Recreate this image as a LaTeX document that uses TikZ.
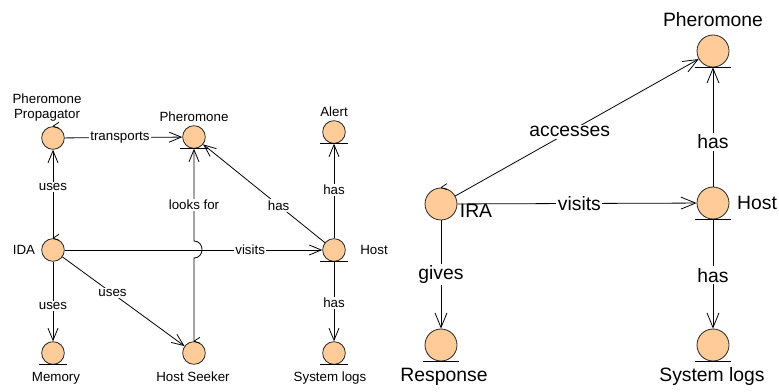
\documentclass[tikz,border=0pt]{standalone}
\usepackage{fontspec}
\setmainfont{Liberation Sans}
\usetikzlibrary{arrows.meta}

\definecolor{peach}{RGB}{255,204,153}

\begin{document}
\begin{tikzpicture}[x=0.75pt, y=-0.75pt, line width=0.6pt,
    obj/.style={circle, draw=black!85, fill=peach, inner sep=0pt, minimum size=17pt},
    bigobj/.style={obj, minimum size=24pt},
    entity/.style={append after command={
        ([xshift=-1.5pt]\tikzlastnode.west |- \tikzlastnode.south) edge ([xshift=1.5pt]\tikzlastnode.east |- \tikzlastnode.south)}},
    control/.style={append after command={
        (\tikzlastnode.north) edge ([xshift=4.5pt,yshift=3pt]\tikzlastnode.north)
        (\tikzlastnode.north) edge ([xshift=4.5pt,yshift=-1.5pt]\tikzlastnode.north)}},
    txt/.style={inner sep=0pt, font=\fontsize{10}{11.25}\selectfont},
    bigtxt/.style={inner sep=0pt, font=\fontsize{14.5}{17}\selectfont},
    lbl/.style={txt, fill=white, inner sep=1pt},
    biglbl/.style={bigtxt, fill=white, inner sep=1.2pt},
    arr/.style={-{Straight Barb[length=9pt,width=7.5pt]}},
    bigarr/.style={-{Straight Barb[length=11pt,width=9pt]}}]

    \useasboundingbox (0,0) rectangle (779,392);

    % left diagram
    \node[obj, control] (prop) at (53,138) {};
    \node[txt, align=center] (propName) at (47,108) {Pheromone\\Propagator};
    \node[obj, entity] (pher) at (194,137) {};
    \node[txt] (pherName) at (194,117) {Pheromone};
    \node[obj, entity] (alert) at (334,132) {};
    \node[txt] (alertName) at (334,112) {Alert};
    \node[obj, control] (ida) at (53,250) {};
    \node[txt] (idaName) at (24,250) {IDA};
    \node[obj, entity] (host) at (334,250) {};
    \node[txt] (hostName) at (374,250) {Host};
    \node[obj, entity] (mem) at (53,353) {};
    \node[txt] (memName) at (56,378) {Memory};
    \node[obj, control] (seeker) at (194,353) {};
    \node[txt] (seekerName) at (193,377) {Host Seeker};
    \node[obj, entity] (logs) at (334,353) {};
    \node[txt] (logsName) at (330,378) {System logs};

    \draw[arr] (prop) -- (pher) node[lbl, pos=0.47] (lTransports) {transports};
    \draw[arr] (ida) -- (prop) node[lbl, pos=0.58] (lUsesProp) {uses};
    \draw[arr] (ida) -- (host) node[lbl, pos=0.72] (lVisits) {visits};
    \draw[arr] (ida) -- (mem) node[lbl, pos=0.56] (lUsesMem) {uses};
    \draw[arr] (ida) -- (seeker) node[lbl, pos=0.41] (lUsesSeeker) {uses};
    \draw[arr] (seeker) -- (194,258) .. controls (199,258) and (202,254) .. (202,249.5)
        .. controls (202,245) and (199,241) .. (194,241) -- (pher) node[lbl, pos=0.39] (lLooks) {looks for};
    \draw[arr] (host) -- (pher) node[lbl, pos=0.38] (lHasPher) {has};
    \draw[arr] (host) -- (alert) node[lbl, pos=0.51] (lHasAlert) {has};
    \draw[arr] (host) -- (logs) node[lbl, pos=0.52] (lHasLogs) {has};

    % right diagram
    \node[bigobj, entity] (pherR) at (713,51) {};
    \node[bigtxt] (pherRName) at (713,20) {Pheromone};
    \node[bigobj, control] (ira) at (441,204) {};
    \node[bigtxt] (iraName) at (476,211) {IRA};
    \node[bigobj, entity] (hostR) at (713,203) {};
    \node[bigtxt] (hostRName) at (757,203) {Host};
    \node[bigobj, entity] (resp) at (441,345) {};
    \node[bigtxt] (respName) at (444,377) {Response};
    \node[bigobj, entity] (logsR) at (713,345) {};
    \node[bigtxt] (logsRName) at (712,377) {System logs};

    \draw[bigarr] (ira) -- (pherR) node[biglbl, pos=0.47] (lAccesses) {accesses};
    \draw[bigarr] (ira) -- (hostR) node[biglbl, pos=0.51] (lVisitsR) {visits};
    \draw[bigarr] (hostR) -- (pherR) node[biglbl, pos=0.375] (lHasPherR) {has};
    \draw[bigarr] (ira) -- (resp) node[biglbl, pos=0.5] (lGives) {gives};
    \draw[bigarr] (hostR) -- (logsR) node[biglbl, pos=0.51] (lHasLogsR) {has};

\end{tikzpicture}
\end{document}
